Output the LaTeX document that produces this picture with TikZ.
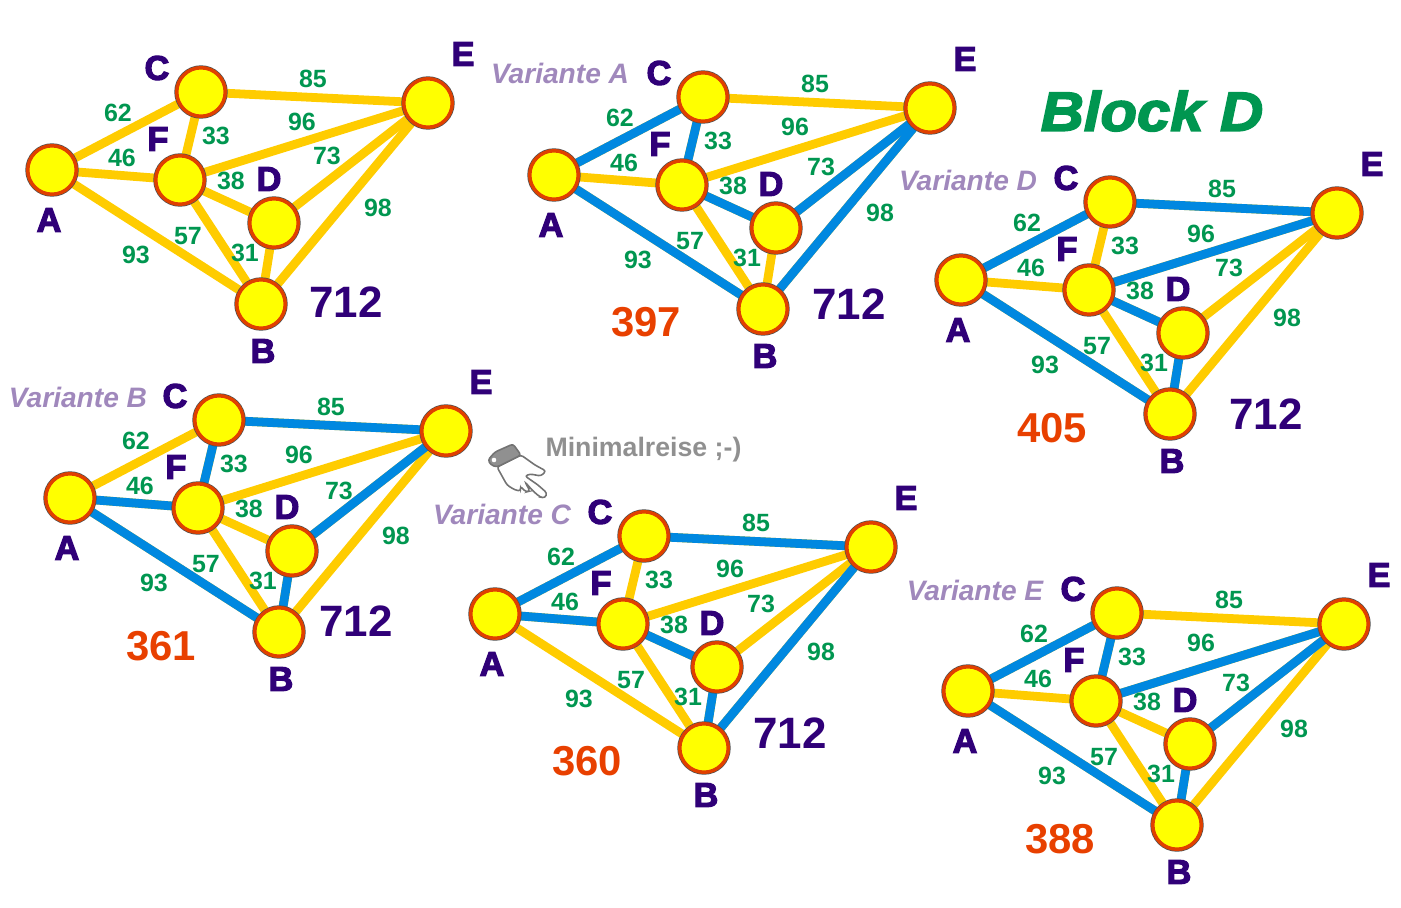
\documentclass[tikz,border=0pt]{standalone}
\usepackage{fontspec}
\usepackage{tikz}
\usetikzlibrary{backgrounds}
\setmainfont{Liberation Sans}
\newfontfamily\heavyfont[RawFeature={embolden=3.5}]{Liberation Sans}
\newfontfamily\titlefont[RawFeature={embolden=3;extend=1.08}]{Liberation Sans}
\definecolor{roadyellow}{HTML}{FFCC00}
\definecolor{roadblue}  {HTML}{0088E0}
\definecolor{stopyellow}{HTML}{FFFF00}
\definecolor{stopring}  {HTML}{E04000}
\definecolor{stopedge}  {HTML}{505050}
\definecolor{letterblue}{HTML}{300078}
\definecolor{weightgreen}{HTML}{009650}
\definecolor{sumred}    {HTML}{E84000}
\definecolor{variantlilac}{HTML}{A088BC}
\definecolor{notegray}  {HTML}{909090}
\newcommand{\fsize}[1]{\fontsize{#1}{#1}\selectfont}
\tikzset{
  stop/.style={circle, minimum size=27.6pt, inner sep=0pt, fill=stopyellow, draw=stopring,
    line width=2pt, preaction={draw=stopedge, line width=2.8pt}},
  road/.style={roadyellow, line width=5pt},
  shortroad/.style={roadblue, line width=5pt},
  letter/.style={text=letterblue, font=\heavyfont\bfseries\fsize{19.5}, inner sep=0pt},
  weight/.style={text=weightgreen, font=\bfseries\fsize{14.2}, inner sep=0pt},
  total/.style={text=letterblue, font=\bfseries\fsize{25}, inner sep=0pt},
  sum/.style={text=sumred, font=\bfseries\fsize{23.8}, inner sep=0pt},
  variant/.style={text=variantlilac, font=\bfseries\itshape\fsize{16}, inner sep=0pt},
}
% one round trip map: #1 name, #2 shift, #3 roads of the tour, #4 and #5 places of 96 and 73
\newcommand{\tripmap}[5]{
  \begin{scope}[shift={#2}, name prefix=#1-]
    \node[stop] (A) at (52,170) {};
    \node[stop] (C) at (201,92) {};
    \node[stop] (F) at (180,180) {};
    \node[stop] (D) at (274,223) {};
    \node[stop] (E) at (428,103) {};
    \node[stop] (B) at (261,304) {};
    \begin{scope}[on background layer]
      \foreach \u/\v in {A/C,A/F,A/B,C/F,C/E,F/E,F/D,F/B,D/E,D/B,B/E}
        \draw[road] (\u) -- (\v);
      \foreach \u/\v in {#3}
        \draw[shortroad] (\u) -- (\v);
    \end{scope}
    \node[letter] (lA) at (49,220) {A};
    \node[letter] (lB) at (263,351) {B};
    \node[letter] (lC) at (157,68) {C};
    \node[letter] (lD) at (269,179) {D};
    \node[letter] (lE) at (463,54) {E};
    \node[letter] (lF) at (158,139) {F};
    \node[weight] (w62) at (118,113) {62};
    \node[weight] (w46) at (122,158) {46};
    \node[weight] (w93) at (136,255) {93};
    \node[weight] (w33) at (216,136) {33};
    \node[weight] (w85) at (313,79) {85};
    \node[weight] (w96) at #4 {96};
    \node[weight] (w38) at (231,181) {38};
    \node[weight] (w57) at (188,236) {57};
    \node[weight] (w73) at #5 {73};
    \node[weight] (w31) at (245,253) {31};
    \node[weight] (w98) at (378,208) {98};
  \end{scope}
}
\begin{document}
\begin{tikzpicture}[x=0.02cm, y=-0.02cm]
  \useasboundingbox (0,0) rectangle (1401,907);
  \tripmap{plain}{(0,0)}{}{(302,122)}{(327,156)}
  \tripmap{varA}{(502,5)}{A/C,C/F,F/D,D/E,B/E,A/B}{(293,122)}{(319,162)}
  \tripmap{varD}{(909,110)}{A/C,C/E,F/E,A/B,F/D,D/B}{(292,124)}{(320,158)}
  \tripmap{varB}{(18,328)}{C/E,C/F,A/F,A/B,D/E,D/B}{(281,127)}{(321,163)}
  \tripmap{varC}{(443,444)}{A/C,C/E,A/F,F/D,D/B,B/E}{(287,125)}{(318,160)}
  \tripmap{varE}{(916,521)}{A/C,C/F,F/E,D/E,D/B,A/B}{(285,122)}{(320,162)}
  % totals
  \node[total] (t0) at (346,302) {712};
  \node[total] (tA) at (849,304) {712};
  \node[total] (tD) at (1266,414) {712};
  \node[total] (tB) at (356,621) {712};
  \node[total] (tC) at (790,733) {712};
  \node[sum] (sA) at (646,322) {397};
  \node[sum] (sD) at (1052,428) {405};
  \node[sum] (sB) at (161,646) {361};
  \node[sum] (sC) at (587,761) {360};
  \node[sum] (sE) at (1060,839) {388};
  % variant names
  \node[variant] (nA) at (560,73) {Variante A};
  \node[variant] (nD) at (968,180) {Variante D};
  \node[variant] (nB) at (78,397) {Variante B};
  \node[variant] (nC) at (502,514) {Variante C};
  \node[variant] (nE) at (975,590) {Variante E};
  \node[text=weightgreen, font=\titlefont\bfseries\itshape\fsize{31.5}, inner sep=0pt]
    (title) at (1152,111) {Block D};
  \node[text=notegray, font=\bfseries\fsize{15.2}, inner sep=0pt] (note) at (643.5,450) {Minimalreise ;-)};
  % pointing hand
  \filldraw[fill=white, draw=stopedge!80, line width=0.9pt, rounded corners=1.5pt]
    (497,467) -- (521,455) -- (535,465) -- (546,471) -- (541,476) -- (530,474) -- (525,476)
    -- (538,485) -- (547,493) -- (545,498) -- (540,497) -- (533,491) -- (525,482)
    -- (530,491) -- (526,492) -- (520,486) -- (521,491) -- (515,490) -- (507,485) -- cycle;
  \filldraw[fill=notegray, draw=stopedge!80, line width=0.9pt, rounded corners=1.5pt]
    (488,460) -- (495,452) -- (513,444) -- (521,455) -- (497,467) -- (491,465) -- cycle;
  \fill[white] (494,460) circle (2.3);
\end{tikzpicture}
\end{document}
